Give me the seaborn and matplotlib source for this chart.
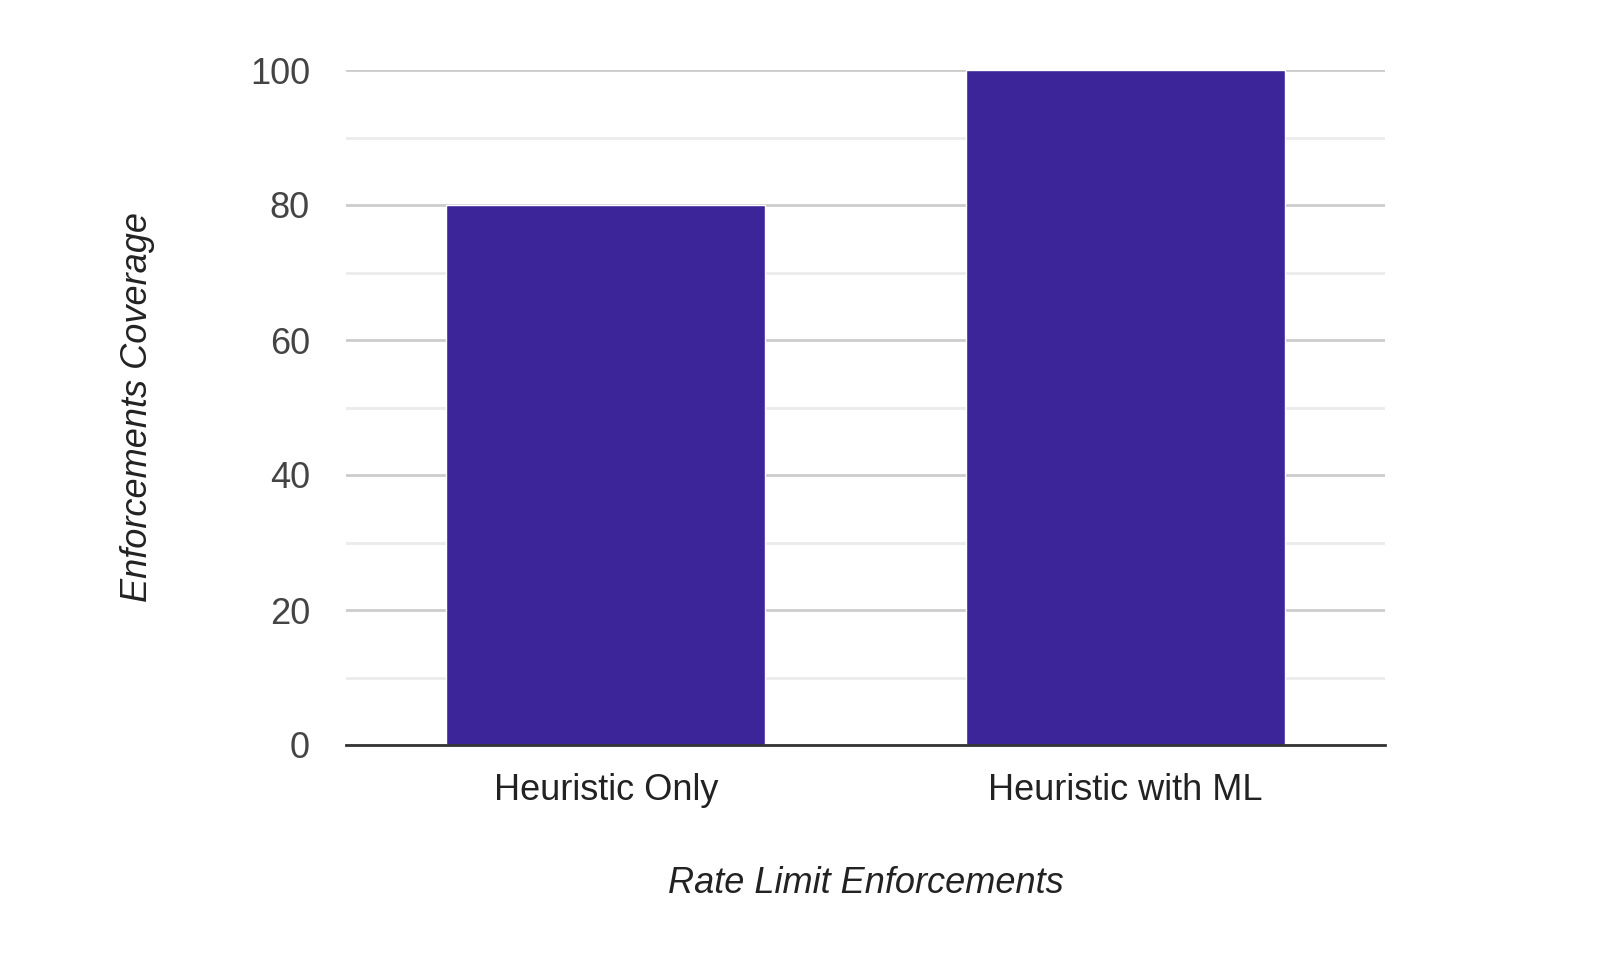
import matplotlib
matplotlib.use("Agg")
import matplotlib.pyplot as plt
import seaborn as sns
import pandas as pd
from matplotlib.ticker import MultipleLocator

categories = ["Heuristic Only", "Heuristic with ML"]
coverage = [80, 100]
y_ticks = [0, 20, 40, 60, 80, 100]

df = pd.DataFrame({"category": categories, "coverage": coverage})

sns.set_theme(style="white")
plt.rcParams["font.family"] = ["Liberation Sans", "DejaVu Sans"]

fig = plt.figure(figsize=(16, 9.58), dpi=100)
ax = fig.add_axes([346 / 1600, 1 - 745 / 958, (1385 - 346) / 1600, (745 - 70) / 958])

sns.barplot(data=df, x="category", y="coverage", color="#3c2499", saturation=1,
            width=0.614, ax=ax, zorder=3)

ax.set_xlim(-0.5, 1.5)
ax.set_ylim(0, 100)
ax.set_yticks(y_ticks)
ax.yaxis.set_minor_locator(MultipleLocator(10))
ax.grid(True, which="major", axis="y", color="#cccccc", linewidth=2, zorder=0)
ax.grid(True, which="minor", axis="y", color="#ebebeb", linewidth=2, zorder=0)
ax.grid(False, axis="x")
for s in ["top", "right", "left"]:
    ax.spines[s].set_visible(False)
ax.spines["bottom"].set_color("#333333")
ax.spines["bottom"].set_linewidth(2)
ax.spines["bottom"].set_zorder(4)

ax.tick_params(axis="y", which="both", length=0, labelsize=26, labelcolor="#444444", pad=26)
ax.tick_params(axis="x", length=0, labelsize=26, labelcolor="#222222", pad=20)

ax.set_xlabel("Rate Limit Enforcements", fontsize=26, style="italic", color="#222222")
ax.set_ylabel("Enforcements Coverage", fontsize=26, style="italic", color="#222222")
ax.xaxis.set_label_coords(0.5, -0.179)
ax.yaxis.set_label_coords(-0.184, 0.5)

fig.savefig("out.png", dpi=100, facecolor="white")
